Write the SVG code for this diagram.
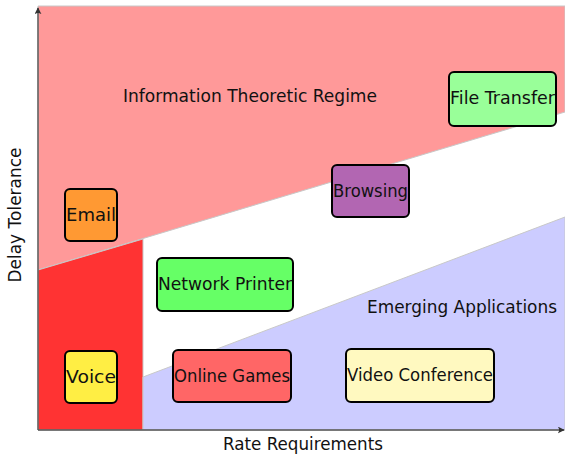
<svg xmlns="http://www.w3.org/2000/svg" width="565" height="454" viewBox="0 0 565 454">
<style>
.region{stroke:#c8c8c8;stroke-width:1}
.box{stroke:#000;stroke-width:2}
.t{font-family:"DejaVu Sans","Liberation Sans",sans-serif;font-size:17px;fill:#111;text-anchor:middle}
.axis{stroke:#555;stroke-width:1.4;fill:none}
</style>
<defs>
<marker id="arr" viewBox="0 0 10 10" refX="9" refY="5" markerWidth="7" markerHeight="7" markerUnits="userSpaceOnUse" orient="auto">
<path d="M0,0 Q4,5 0,10 L10,5 Z" fill="#333"/>
</marker>
</defs>
<rect width="565" height="454" fill="#fff"/>
<g id="regions">
<polygon class="region" points="38,6 565,6 565,112 38,270" fill="#ff9999"/>
<polygon class="region" points="38,270 143,239 143,430 38,430" fill="#ff3333"/>
<polygon class="region" points="143,377 565,217 565,430 143,430" fill="#ccccff"/>
</g>
<g id="connectors">
<line class="axis" x1="38" y1="430" x2="38" y2="8" marker-end="url(#arr)"/>
<line class="axis" x1="38" y1="430" x2="564" y2="430" marker-end="url(#arr)"/>
</g>
<g id="labels">
<text class="t" x="250" y="102" textLength="254" lengthAdjust="spacingAndGlyphs">Information Theoretic Regime</text>
<text class="t" x="462" y="313" textLength="190" lengthAdjust="spacingAndGlyphs">Emerging Applications</text>
<text class="t" x="303" y="450" textLength="160" lengthAdjust="spacingAndGlyphs">Rate Requirements</text>
<text class="t" transform="translate(21,215) rotate(-90)" textLength="135" lengthAdjust="spacingAndGlyphs">Delay Tolerance</text>
</g>
<g id="email"><rect class="box" x="65" y="189" width="52" height="52" rx="5" fill="#ff9933"/><text class="t" x="91" y="221" textLength="50" lengthAdjust="spacingAndGlyphs">Email</text></g>
<g id="voice"><rect class="box" x="65" y="351" width="52" height="52" rx="5" fill="#ffee44"/><text class="t" x="91" y="383" textLength="50" lengthAdjust="spacingAndGlyphs">Voice</text></g>
<g id="network-printer"><rect class="box" x="157" y="258" width="136" height="53" rx="5" fill="#66ff66"/><text class="t" x="225" y="290" textLength="134" lengthAdjust="spacingAndGlyphs">Network Printer</text></g>
<g id="online-games"><rect class="box" x="173" y="350" width="118" height="52" rx="5" fill="#ff6666"/><text class="t" x="232" y="382" textLength="116" lengthAdjust="spacingAndGlyphs">Online Games</text></g>
<g id="video-conference"><rect class="box" x="346" y="349" width="148" height="53" rx="5" fill="#fff9c0"/><text class="t" x="420" y="381" textLength="146" lengthAdjust="spacingAndGlyphs">Video Conference</text></g>
<g id="browsing"><rect class="box" x="332" y="165" width="77" height="52" rx="5" fill="#b266b2"/><text class="t" x="370.5" y="197" textLength="75" lengthAdjust="spacingAndGlyphs">Browsing</text></g>
<g id="file-transfer"><rect class="box" x="449" y="72" width="107" height="54" rx="5" fill="#99ff99"/><text class="t" x="502.5" y="104" textLength="105" lengthAdjust="spacingAndGlyphs">File Transfer</text></g>
</svg>
